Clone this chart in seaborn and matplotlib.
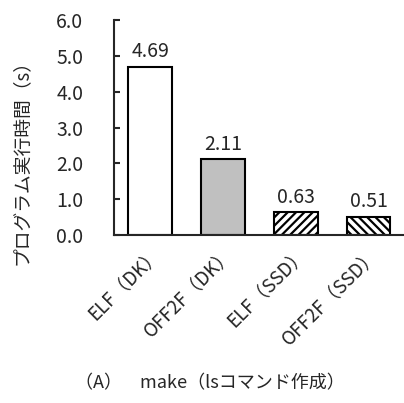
import matplotlib
matplotlib.use('Agg')
import matplotlib.pyplot as plt
import pandas as pd
import seaborn as sns

# Datos
categorias = ['ELF（DK）', 'OFF2F（DK）', 'ELF（SSD）', 'OFF2F（SSD）']
tiempos = [4.69, 2.11, 0.63, 0.51]
colores = ['#ffffff', '#c0c0c0', '#ffffff', '#ffffff']
tramas = ['', '', '////', '\\\\\\\\']

df = pd.DataFrame({'categoria': categorias, 'tiempo': tiempos})

sns.set_style('white')
plt.rcParams['font.family'] = ['Noto Sans CJK JP', 'DejaVu Sans']
plt.rcParams['hatch.linewidth'] = 1.6

fig = plt.figure(figsize=(4.04, 4.03), dpi=100)
ax = fig.add_axes([0.282, 0.417, 0.72, 0.533])

sns.barplot(data=df, x='categoria', y='tiempo', hue='categoria', palette=colores,
            width=0.6, edgecolor='black', linewidth=1.5, legend=False, ax=ax)
for barra, trama in zip(ax.patches, tramas):
    barra.set_hatch(trama)

# Etiquetas de valor sobre cada barra
for i, v in enumerate(tiempos):
    ax.text(i, v + 0.13, f'{v:.2f}', ha='center', va='bottom', fontsize=14)

ax.set_xlim(-0.5, 3.5)
ax.set_ylim(0, 6)
ax.set_yticks([0, 1, 2, 3, 4, 5, 6])
ax.set_yticklabels([f'{t:.1f}' for t in range(7)], fontsize=14)
ax.tick_params(axis='y', direction='in', length=4, width=1.5, left=True, pad=22)
ax.tick_params(axis='x', length=0, pad=6)
ax.set_xticks(range(len(categorias)))
ax.set_xticklabels(categorias, rotation=45, ha='right', rotation_mode='anchor', fontsize=13.5)

sns.despine(ax=ax, top=True, right=True)
ax.spines['left'].set_linewidth(1.5)
ax.spines['bottom'].set_linewidth(1.5)
ax.set_xlabel('')
ax.set_ylabel('プログラム実行時間（s）', fontsize=13.5, va='center')
ax.yaxis.set_label_coords(-0.32, 0.36)

fig.text(0.52, 0.05, '（A）　make（lsコマンド作成）', ha='center', va='center', fontsize=13)

fig.savefig('out.png', dpi=100)
